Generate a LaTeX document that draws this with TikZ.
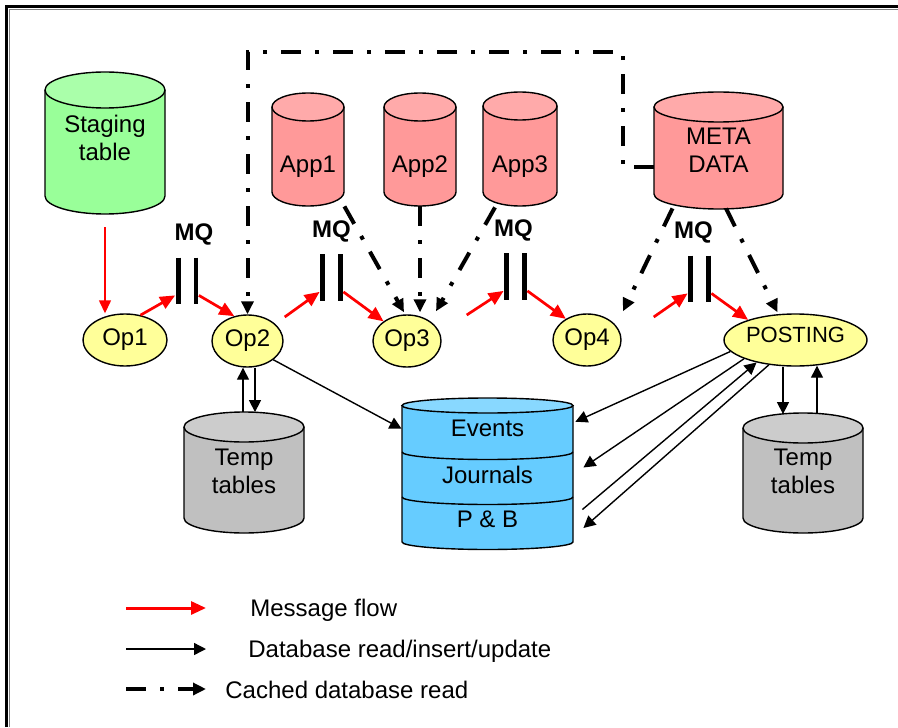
\documentclass[tikz,border=0pt]{standalone}
\usepackage{fontspec}
\setmainfont{Liberation Sans}
\usetikzlibrary{arrows.meta, calc, fit, shapes.geometric, positioning}

\definecolor{stagegreen}{HTML}{99FF99}
\definecolor{stagetop}{HTML}{AAFFAA}
\definecolor{apppink}{HTML}{FF9999}
\definecolor{apptop}{HTML}{FFAAAA}
\definecolor{tempgray}{HTML}{C0C0C0}
\definecolor{temptop}{HTML}{CCCCCC}
\definecolor{dbblue}{HTML}{66CCFF}
\definecolor{dbtop}{HTML}{88D8FF}
\definecolor{opyellow}{HTML}{FFFF99}

\tikzset{
  can/.style={draw=black, line width=0.7pt},
  opnode/.style={ellipse, draw, line width=0.7pt, fill=opyellow, inner sep=0pt, minimum height=26pt},
  band/.style={inner sep=0pt, minimum width=85.5pt, minimum height=22.5pt},
  msg/.style={red, line width=1.35pt, -{Triangle[length=7.5pt,width=6.5pt]}},
  msgthin/.style={red, line width=0.7pt, -{Triangle[length=6.5pt,width=6pt]}},
  db/.style={line width=0.7pt, -{Triangle[length=6pt,width=6pt]}},
  cached/.style={line width=2pt, dash pattern=on 10pt off 7pt on 2pt off 7pt, -{Triangle[length=6.5pt,width=6pt]}},
  mq/.style={minimum width=8.5pt, minimum height=23pt, inner sep=0pt},
  mqbar/.style={line width=2.4pt},
  mqlabel/.style={font=\fontsize{12}{14}\selectfont\bfseries, above=2.5pt of #1},
}

% hinh tru: ten, x tam, y day tren, y day duoi, ban kinh x, ban kinh y, mau than, mau nap
\newcommand{\drawcan}[8]{%
  \fill[#7] (#2-#5,#3) -- (#2-#5,#4) arc[start angle=180,end angle=0,x radius=#5,y radius=#6] -- (#2+#5,#3) -- cycle;
  \draw[can] (#2-#5,#3) -- (#2-#5,#4) arc[start angle=180,end angle=0,x radius=#5,y radius=#6] -- (#2+#5,#3);
  \draw[can,fill=#8] (#2,#3) ellipse[x radius=#5,y radius=#6];
  \path (#2-#5,#3-#6) coordinate (#1-nw) (#2+#5,#4+#6) coordinate (#1-se);
  \node[fit=(#1-nw)(#1-se),inner sep=0pt] (#1) {};
}

\begin{document}
\begin{tikzpicture}[x=0.5pt, y=-0.5pt, font=\fontsize{12}{14}\selectfont]
\useasboundingbox (0,0) rectangle (898,727);

        % Khung
        \draw[line width=1.5pt] (6.5,727) -- (6.5,7) -- (898,7);
        \draw[line width=0.5pt, gray] (9.5,727) -- (9.5,9.5) -- (898,9.5);

        % Cac bang du lieu
        \drawcan{stg}{105}{90}{196}{60}{18}{stagegreen}{stagetop} % Staging table
        \drawcan{app1}{308}{107}{192}{36}{14}{apppink}{apptop} % App1
        \drawcan{app2}{420}{107}{192}{36}{14}{apppink}{apptop} % App2
        \drawcan{app3}{520}{106}{192}{37}{14}{apppink}{apptop} % App3
        \drawcan{meta}{718.5}{107}{194}{64.5}{15}{apppink}{apptop} % META DATA
        \drawcan{tmpl}{244}{427}{518}{60}{15}{tempgray}{temptop} % Temp tables trai
        \drawcan{tmpr}{803}{428}{518}{60}{15}{tempgray}{temptop} % Temp tables phai
        \drawcan{evt}{487.5}{405.5}{542}{85.5}{7.5}{dbblue}{dbtop} % CSDL chinh
        \draw[can] (402,452) arc[start angle=180,end angle=0,x radius=85.5,y radius=7.5];
        \draw[can] (402,497) arc[start angle=180,end angle=0,x radius=85.5,y radius=7.5];

        % Chu tren bang
        \node[align=center] (stg-t) at (105,137.5) {Staging\\table};
        \node (app1-t) at (308,167) {App1};
        \node (app2-t) at (420,167) {App2};
        \node (app3-t) at (520,167) {App3};
        \node[align=center] (meta-t) at (718.5,150.5) {META\\DATA};
        \node[align=center] (tmpl-t) at (244,471) {Temp\\tables};
        \node[align=center] (tmpr-t) at (803,471) {Temp\\tables};
        \node[band] (ev) at (487.5,428.75) {Events};
        \node[band] (jn) at (487.5,474.5) {Journals};
        \node[band] (pb) at (487.5,519.5) {P \& B};

        % Cac buoc xu ly
        \node[opnode, minimum width=42pt] (op1) at (125,340) {Op1};
        \node[opnode, minimum width=35.5pt] (op2) at (247.5,341) {Op2};
        \node[opnode, minimum width=34pt] (op3) at (407,341) {Op3};
        \node[opnode, minimum width=34pt] (op4) at (587,340) {Op4};
        \node[opnode, minimum width=71.5pt, font=\fontsize{11}{13}\selectfont] (post) at (795.5,340) {\raisebox{5pt}{POSTING}};

        % Hang doi MQ
        \node[mq] (mq1) at (187,281) {};
        \node[mq] (mq2) at (331.5,277.5) {};
        \node[mq] (mq3) at (515.5,276.5) {};
        \node[mq] (mq4) at (699.5,279) {};
        \foreach \q in {mq1,mq2,mq3,mq4} {
          \draw[mqbar] (\q.north west) -- (\q.south west);
          \draw[mqbar] (\q.north east) -- (\q.south east);
          \coordinate (\q-in) at ($(\q.south west)+(-3,-9)$);
          \coordinate (\q-out) at ($(\q.south east)+(3,-9)$);
        }
        \node[mqlabel=mq1, xshift=3.5pt] (mq1-l) {MQ};
        \node[mqlabel=mq2] (mq2-l) {MQ};
        \node[mqlabel=mq3, xshift=-1pt] (mq3-l) {MQ};
        \node[mqlabel=mq4, xshift=-3pt] (mq4-l) {MQ};

        % Luong thong diep
        \draw[msgthin] ($(stg.south)+(0,13)$) -- (stg.south |- op1.north);
        \draw[msg] (op1.58) -- (mq1-in);
        \draw[msg] (mq1-out) -- (op2.118);
        \draw[msg] ($(op2.east)+(1,-24)$) -- (mq2-in);
        \draw[msg] (mq2-out) -- (op3.140);
        \draw[msg] ($(op3.east)+(25,-26)$) -- (mq3-in);
        \draw[msg] (mq3-out) -- (op4.135);
        \draw[msg] ($(op4.east)+(32,-23)$) -- (mq4-in);
        \draw[msg] (mq4-out) -- (post.157);

        % Doc co cache
        \draw[cached] ($(meta.west)+(0,17)$) -- (623,167.5) |- (247.5,52) -- (op2.north);
        \draw[cached] (app1.south east) -- ($(op3.north)+(-3,-2)$);
        \draw[cached] (app2.south) -- ($(op3.north)+(13,-2)$);
        \draw[cached] ($(app3.south)+(-25,1)$) -- ($(op3.north)+(29,-3)$);
        \draw[cached] ($(meta.south)+(-46,-1)$) -- ($(op4.north)+(36,-2)$);
        \draw[cached] ($(meta.south)+(7.5,-1)$) -- ($(post.north)+(-18,-1)$);

        % Doc / ghi CSDL
        \draw[db] ($(tmpl.north)+(-1,0)$) -- ($(op2.south)+(-4.5,0)$);
        \draw[db] ($(op2.south)+(7.5,0)$) -- ($(tmpl.north)+(11,0.5)$);
        \draw[db] (op2.-36) -- (ev.west);
        \draw[db] (post.190) -- ($(ev.east)+(2,-7)$);
        \draw[db] (post.200) -- ($(jn.east)+(10,-7)$);
        \draw[db] ($(pb.east)+(9,-10)$) -- (post.210);
        \draw[db] (post.223) -- ($(pb.east)+(10,8.5)$);
        \draw[db] ($(post.south)+(-12.5,0)$) -- ($(tmpr.north)+(-20,1.5)$);
        \draw[db] ($(tmpr.north)+(14,0.5)$) -- ($(post.south)+(21.5,-1)$);

        % Chu thich
        \draw[msg, line width=1.5pt] (126,608) -- (206,608);
        \draw[db] (126,649) -- (206,649);
        \draw[cached] (126,689) -- (206,689);
        \node[anchor=base west, inner sep=0pt] (lg-msg) at (250,616) {Message flow};
        \node[anchor=base west, inner sep=0pt] (lg-db) at (248,657) {Database read/insert/update};
        \node[anchor=base west, inner sep=0pt] (lg-cache) at (225,698) {Cached database read};

\end{tikzpicture}
\end{document}
